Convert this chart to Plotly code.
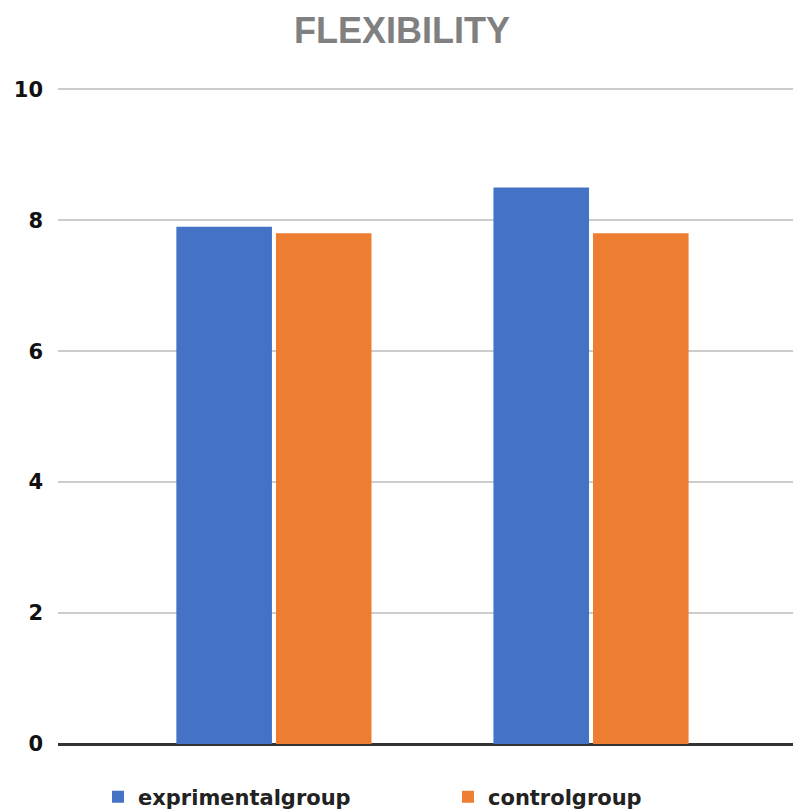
import plotly.graph_objects as go

categories = ["Group 1", "Group 2"]
experimental = [7.9, 8.5]
control = [7.8, 7.8]
series_names = ["exprimentalgroup", "controlgroup"]
tick_vals = [0, 2, 4, 6, 8, 10]

fig = go.Figure()
fig.add_trace(go.Bar(x=categories, y=experimental, name=series_names[0],
                     marker=dict(color="#4472C4", line=dict(width=0))))
fig.add_trace(go.Bar(x=categories, y=control, name=series_names[1],
                     marker=dict(color="#ED7D31", line=dict(width=0))))

fig.update_layout(
    width=793, height=811,
    margin=dict(l=58, r=0, t=88, b=67, autoexpand=False),
    paper_bgcolor="white", plot_bgcolor="white",
    barmode="group", bargap=0.372, bargroupgap=0.04,
    title=dict(text="<b>FLEXIBILITY</b>", x=0.507, xref="container", xanchor="center",
               y=0.963, yref="container", yanchor="middle",
               font=dict(family="Liberation Sans, Arial", size=36, color="#808080")),
    xaxis=dict(range=[-0.681, 1.637], showticklabels=False, showgrid=False,
               showline=False, zeroline=False, ticks=""),
    yaxis=dict(range=[0, 10.02], tickvals=tick_vals, showgrid=True, gridcolor="#cccccc", gridwidth=2,
               zeroline=True, zerolinecolor="#333333", zerolinewidth=3, showline=False,
               ticks="", ticklabelstandoff=14,
               tickfont=dict(family="DejaVu Sans", size=21, color="#111111", weight="bold")),
    showlegend=True,
    legend=dict(orientation="h", x=98 / 793.0, xref="container", xanchor="left",
                y=(811 - 797) / 811.0, yref="container", yanchor="middle",
                entrywidth=305, entrywidthmode="pixels",
                font=dict(family="DejaVu Sans", size=21, color="#222222", weight="bold")),
)

fig.write_html("out.html")
